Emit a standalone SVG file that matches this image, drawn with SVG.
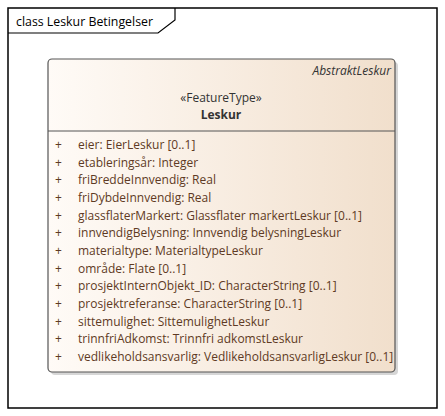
<svg xmlns="http://www.w3.org/2000/svg" width="445" height="416" viewBox="0 0 445 416">
<defs>
<linearGradient id="bg" x1="0" y1="0" x2="1" y2="0">
<stop offset="0" stop-color="#fffbf7"/>
<stop offset="1" stop-color="#f1dfcc"/>
</linearGradient>
<style>
.t{font-family:"Open Sans","Liberation Sans",sans-serif;font-size:12px;fill:#5e3a24}
.h{font-family:"Open Sans","Liberation Sans",sans-serif;font-size:12px;fill:#333}
.f{font-family:"Open Sans","Liberation Sans",sans-serif;font-size:12.5px;fill:#000}
</style>
</defs>
<rect x="0" y="0" width="445" height="416" fill="#fff"/>
<g id="frame">
<rect x="8" y="8" width="429" height="400" fill="none" stroke="#000" stroke-width="1.5"/>
<polyline points="8,33 158,33 175,20 175,8" fill="none" stroke="#000" stroke-width="1.2"/>
<text class="f" x="16" y="26" textLength="137" lengthAdjust="spacingAndGlyphs">class Leskur Betingelser</text>
</g>
<g id="Leskur">
<rect x="51" y="62" width="347" height="313" rx="4" fill="#d6d6d6"/>
<rect x="48" y="59" width="347" height="313" rx="4" fill="url(#bg)" stroke="#555" stroke-width="1.2"/>
<line x1="48" y1="131" x2="395" y2="131" stroke="#555" stroke-width="1"/>
<text class="h" x="391" y="75" text-anchor="end" font-style="italic">AbstraktLeskur</text>
<text class="h" x="221" y="102" text-anchor="middle">«FeatureType»</text>
<text class="h" x="221" y="119" text-anchor="middle" font-weight="bold">Leskur</text>
<g class="t">
<text x="55" y="149">+</text><text x="78" y="149">eier: EierLeskur [0..1]</text>
<text x="55" y="166.7">+</text><text x="78" y="166.7">etableringsår: Integer</text>
<text x="55" y="184.3">+</text><text x="78" y="184.3">friBreddeInnvendig: Real</text>
<text x="55" y="202">+</text><text x="78" y="202">friDybdeInnvendig: Real</text>
<text x="55" y="219.7">+</text><text x="78" y="219.7">glassflaterMarkert: Glassflater markertLeskur [0..1]</text>
<text x="55" y="237.3">+</text><text x="78" y="237.3">innvendigBelysning: Innvendig belysningLeskur</text>
<text x="55" y="255">+</text><text x="78" y="255">materialtype: MaterialtypeLeskur</text>
<text x="55" y="272.7">+</text><text x="78" y="272.7">område: Flate [0..1]</text>
<text x="55" y="290.3">+</text><text x="78" y="290.3">prosjektInternObjekt_ID: CharacterString [0..1]</text>
<text x="55" y="308">+</text><text x="78" y="308">prosjektreferanse: CharacterString [0..1]</text>
<text x="55" y="325.7">+</text><text x="78" y="325.7">sittemulighet: SittemulighetLeskur</text>
<text x="55" y="343.3">+</text><text x="78" y="343.3">trinnfriAdkomst: Trinnfri adkomstLeskur</text>
<text x="55" y="361">+</text><text x="78" y="361">vedlikeholdsansvarlig: VedlikeholdsansvarligLeskur [0..1]</text>
</g>
</g>
<g id="connectors"/>
</svg>
